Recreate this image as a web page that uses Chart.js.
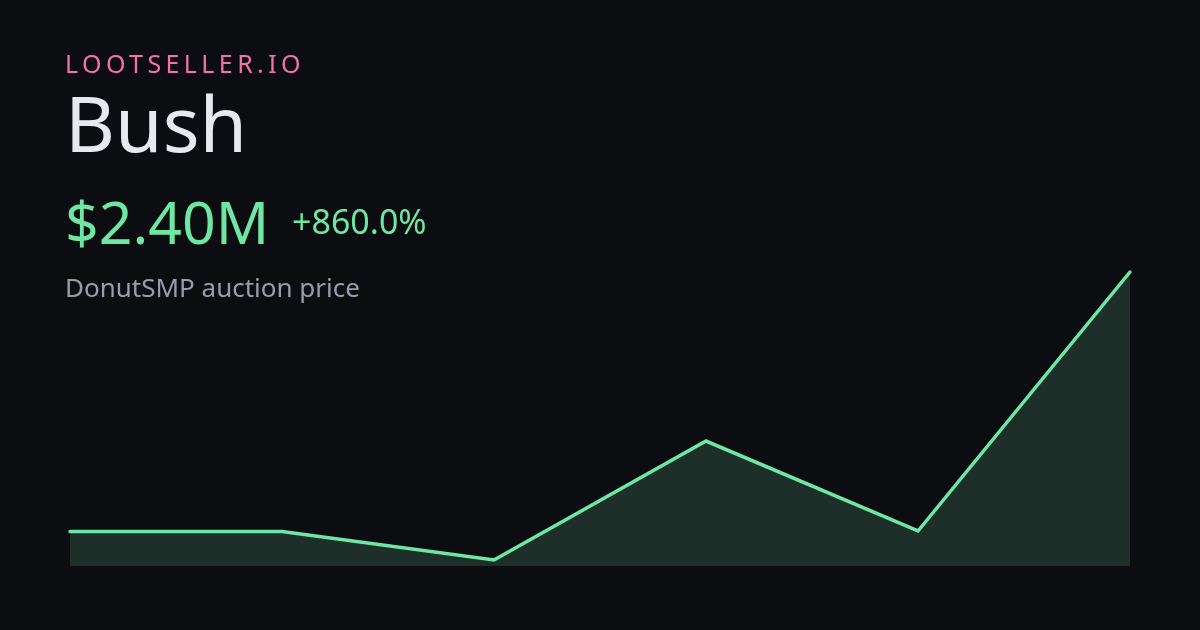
<!DOCTYPE html>
<html>
<head>
<meta charset="utf-8">
<script src="https://cdn.jsdelivr.net/npm/chart.js@4"></script>
<style>
  html, body { margin: 0; padding: 0; background: #0c0d11; }
  #wrap { position: relative; width: 1200px; height: 630px; overflow: hidden; font-family: "Noto Sans", sans-serif; }
  #grafico { position: absolute; left: 0; top: 0; }
  .txt { position: absolute; left: 65px; line-height: 1; white-space: nowrap; }
  #marca { top: 51px; font-size: 25px; color: #f472a8; letter-spacing: 4.4px; }
  #titulo { top: 84px; font-size: 77px; color: #e8e8ee; }
  #precio { top: 192px; font-size: 59px; color: #6ee7a4; }
  #cambio { top: 204px; left: 292px; font-size: 34px; color: #6ee7a4; }
  #sub { top: 274px; font-size: 26px; color: #9a9cab; }
</style>
</head>
<body>
<div id="wrap">
  <canvas id="grafico" width="1200" height="630"></canvas>
  <div class="txt" id="marca">LOOTSELLER.IO</div>
  <div class="txt" id="titulo">Bush</div>
  <div class="txt" id="precio">$2.40M</div>
  <div class="txt" id="cambio">+860.0%</div>
  <div class="txt" id="sub">DonutSMP auction price</div>
</div>
<script>
// Datos del gráfico (precio en millones)
const fechas = ['1', '2', '3', '4', '5', '6'];
const valores = [0.25, 0.25, 0.015, 1.0, 0.255, 2.40];

const ctx = document.querySelector('#grafico').getContext('2d');
const myChart = new Chart(ctx, {
    type: 'line',
    data: {
        labels: fechas,
        datasets: [{
            data: valores,
            borderColor: '#6ee7a4',
            borderWidth: 3.5,
            backgroundColor: '#1e2f2a',
            fill: 'start',
            pointRadius: 0,
            tension: 0,
            clip: 6,
            borderCapStyle: 'round',
            borderJoinStyle: 'miter'
        }]
    },
    options: {
        responsive: false,
        animation: false,
        layout: { padding: { left: 70, right: 70, top: 272, bottom: 64 } },
        plugins: { legend: { display: false }, tooltip: { enabled: false } },
        scales: {
            x: { display: false, offset: false },
            y: { display: false, min: -0.035, max: 2.4 }
        }
    }
});
</script>
</body>
</html>
